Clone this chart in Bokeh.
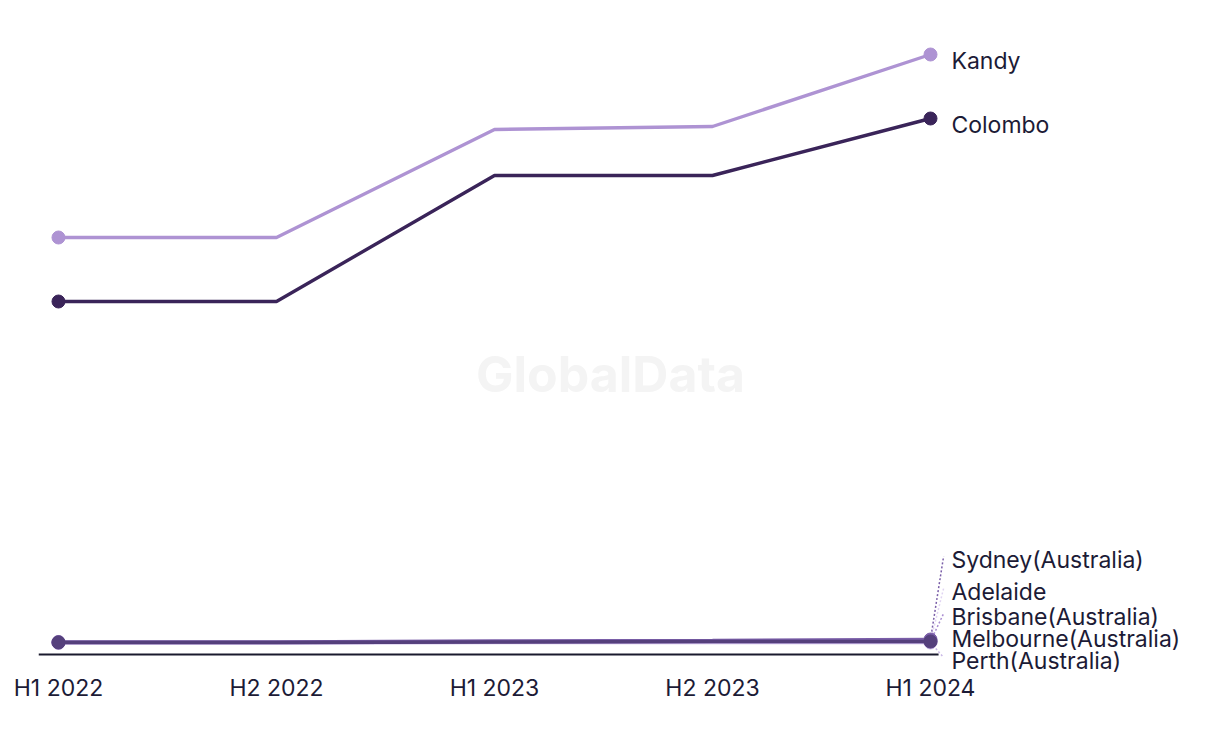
from bokeh.plotting import figure
from bokeh.models import Range1d, FixedTicker, Label
from bokeh.embed import file_html
from bokeh.resources import INLINE

periods = ["H1 2022", "H2 2022", "H1 2023", "H2 2023", "H1 2024"]
kandy = [417, 417, 525, 528, 600]
colombo = [353, 353, 479, 479, 536]
sydney = [12.5, 12.5, 13.5, 14, 15]
adelaide = [12, 12, 12.5, 13, 13.5]
brisbane = [12, 12, 12.5, 13, 13]
melbourne = [12, 12, 12.5, 13, 13]
perth = [11.5, 11.5, 12, 12, 12]

series = [
    ("Kandy", kandy, "#ae93d3"),
    ("Colombo", colombo, "#3a2459"),
    ("Perth(Australia)", perth, "#c9b8e6"),
    ("Adelaide", adelaide, "#e0d4f2"),
    ("Brisbane(Australia)", brisbane, "#a98cd0"),
    ("Sydney(Australia)", sydney, "#7a5ea8"),
    ("Melbourne(Australia)", melbourne, "#55407c"),
]
# label layout (vertical positions for the crowded end labels)
label_pos = {
    "Kandy": 594, "Colombo": 530,
    "Sydney(Australia)": 95, "Adelaide": 63, "Brisbane(Australia)": 38,
    "Melbourne(Australia)": 16, "Perth(Australia)": -6,
}

FONT = "Inter"
TEXT = "#1c1b36"
xs = list(range(len(periods)))

p = figure(width=1216, height=740, output_backend="svg", toolbar_location=None,
           x_range=Range1d(-0.0917, 5.3119), y_range=Range1d(-19, 646),
           y_axis_location=None, min_border_left=38, min_border_right=0,
           min_border_top=8, min_border_bottom=67)
p.outline_line_color = None
p.xgrid.visible = False
p.ygrid.visible = False
p.background_fill_color = "white"

# watermark
p.add_layout(Label(x=2.532, y=281, text="GlobalData", text_font=FONT,
                   text_font_size="50px", text_font_style="bold", text_color="#f4f4f4",
                   text_align="center", text_baseline="middle", level="underlay"))

# baseline
p.segment(x0=[-0.0917], y0=[0], x1=[4.037], y1=[0], line_color="#1a1a2e", line_width=2)

for name, vals, col in series:
    p.line(xs, vals, line_color=col, line_width=3.4)
    p.scatter([xs[0], xs[-1]], [vals[0], vals[-1]], size=13, fill_color=col, line_color=col)
    ly = label_pos[name]
    if abs(ly - vals[-1]) > 10:
        p.segment(x0=[4], y0=[vals[-1]], x1=[4.06], y1=[ly + 3], line_color=col,
                  line_width=1.5, line_dash="2 2")
    p.add_layout(Label(x=4.096, y=ly, text=name, text_font=FONT, text_font_size="23px",
                       text_color=TEXT, text_baseline="middle", text_align="left"))

ax = p.xaxis[0]
ax.ticker = FixedTicker(ticks=xs)
ax.major_label_overrides = {i: s for i, s in enumerate(periods)}
ax.axis_line_color = None
ax.major_tick_line_color = None
ax.minor_tick_line_color = None
ax.major_tick_out = 0
ax.major_tick_in = 0
ax.major_label_text_font = FONT
ax.major_label_text_font_size = "23px"
ax.major_label_text_color = TEXT
ax.major_label_standoff = 0

open("out.html", "w").write(file_html(p, INLINE))
